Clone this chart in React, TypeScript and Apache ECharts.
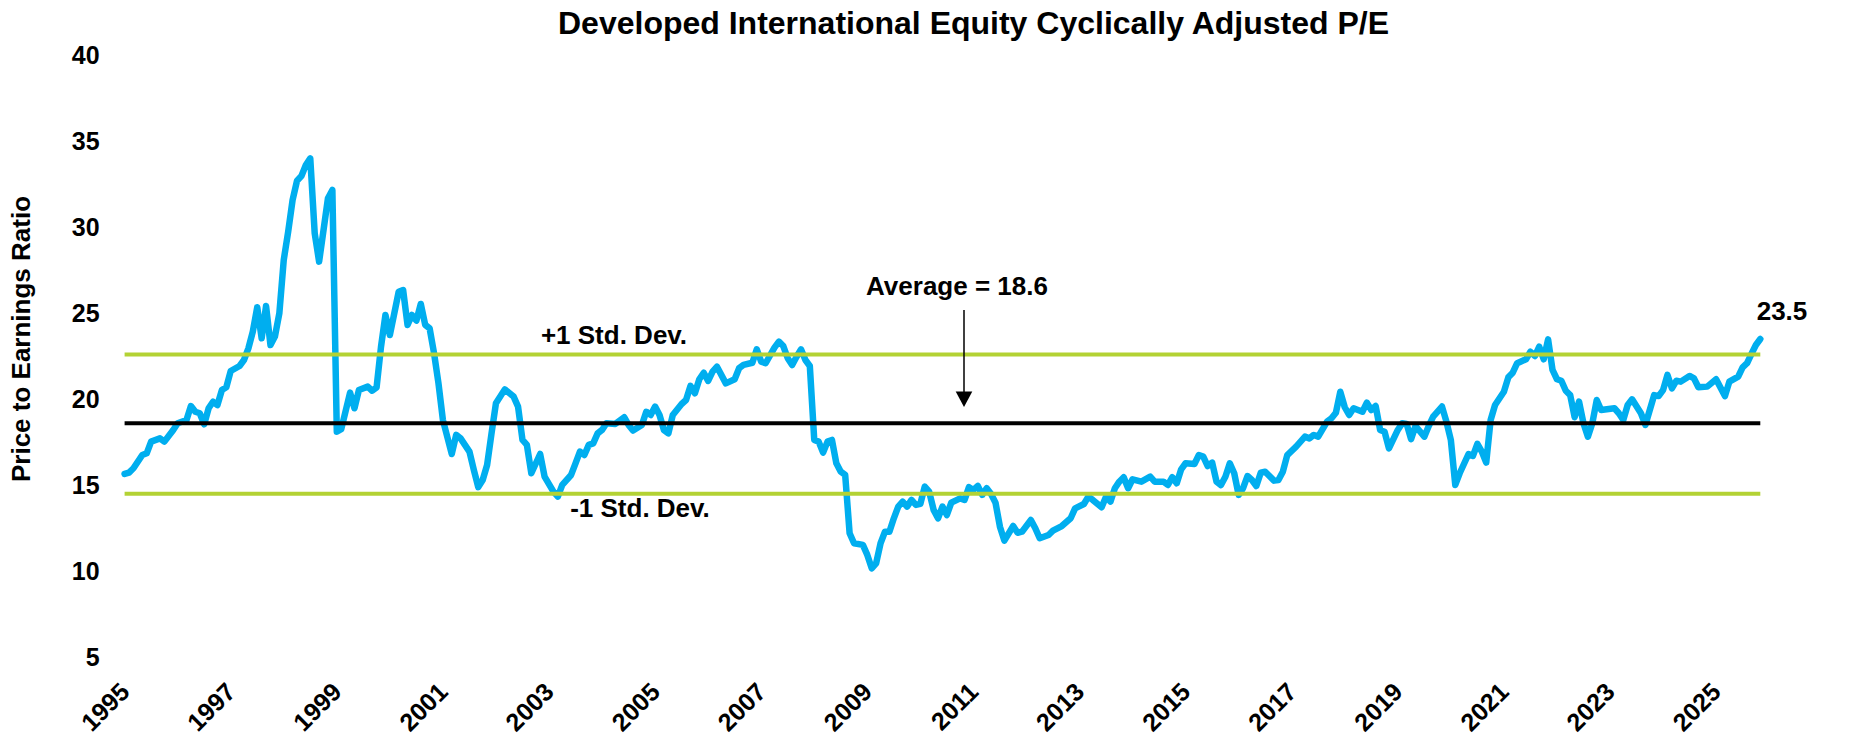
import { useEffect, useRef } from "react";
import * as echarts from "echarts";

const TITLE = "Developed International Equity Cyclically Adjusted P/E";
const Y_NAME = "Price to Earnings Ratio";
const START_YEAR = 1995;

const dates: string[] = [
  "1995-01","1995-02","1995-03","1995-05","1995-06","1995-07","1995-09","1995-10","1995-12",
  "1996-01","1996-03","1996-04","1996-05","1996-06","1996-07","1996-08","1996-09","1996-10","1996-11","1996-12",
  "1997-01","1997-03","1997-04","1997-05","1997-06","1997-07","1997-08","1997-09","1997-10","1997-11","1997-12",
  "1998-01","1998-02","1998-03","1998-04","1998-05","1998-06","1998-07","1998-08","1998-09","1998-10","1998-11","1998-12",
  "1999-01","1999-02","1999-04","1999-05","1999-06","1999-08","1999-09","1999-10","1999-11","1999-12",
  "2000-01","2000-03","2000-04","2000-05","2000-06","2000-07","2000-08","2000-09","2000-10","2000-11","2000-12",
  "2001-01","2001-03","2001-04","2001-05","2001-07","2001-08","2001-09","2001-10","2001-11","2001-12",
  "2002-01","2002-03","2002-05","2002-06","2002-07","2002-08","2002-09","2002-11","2002-12",
  "2003-02","2003-03","2003-04","2003-06","2003-07","2003-08","2003-09","2003-10","2003-11","2003-12",
  "2004-01","2004-02","2004-04","2004-06","2004-07","2004-08","2004-10","2004-11","2004-12",
  "2005-01","2005-02","2005-03","2005-04","2005-05","2005-07","2005-08","2005-09","2005-10","2005-11","2005-12",
  "2006-01","2006-02","2006-03","2006-05","2006-07","2006-08","2006-09","2006-11","2006-12",
  "2007-01","2007-02","2007-04","2007-05","2007-06","2007-07","2007-08","2007-09","2007-10","2007-11","2007-12",
  "2008-01","2008-02","2008-03","2008-04","2008-05","2008-06","2008-07","2008-08","2008-09","2008-10","2008-12",
  "2009-01","2009-02","2009-03","2009-04","2009-05","2009-06","2009-07","2009-08","2009-09","2009-10","2009-11","2009-12",
  "2010-01","2010-02","2010-03","2010-04","2010-05","2010-06","2010-07","2010-08","2010-10","2010-11","2010-12",
  "2011-01","2011-02","2011-03","2011-04","2011-05","2011-06","2011-07","2011-08","2011-10","2011-11","2011-12",
  "2012-02","2012-03","2012-04","2012-06","2012-07","2012-09","2012-11","2012-12",
  "2013-02","2013-03","2013-04","2013-06","2013-07","2013-08","2013-09","2013-10","2013-11","2013-12",
  "2014-01","2014-03","2014-05","2014-06","2014-08","2014-09","2014-10","2014-11","2014-12",
  "2015-01","2015-03","2015-04","2015-05","2015-06","2015-07","2015-08","2015-09","2015-10","2015-11","2015-12",
  "2016-01","2016-02","2016-03","2016-04","2016-05","2016-06","2016-07","2016-09","2016-10","2016-11","2016-12",
  "2017-02","2017-04","2017-05","2017-06","2017-07","2017-09","2017-10","2017-11","2017-12",
  "2018-01","2018-02","2018-03","2018-05","2018-06","2018-07","2018-08","2018-09","2018-10","2018-11",
  "2019-01","2019-02","2019-03","2019-04","2019-05","2019-07","2019-08","2019-09","2019-11","2019-12",
  "2020-01","2020-02","2020-03","2020-05","2020-06","2020-07","2020-08","2020-09","2020-10","2020-11",
  "2021-01","2021-02","2021-03","2021-04","2021-06","2021-07","2021-08","2021-09","2021-10","2021-11","2021-12",
  "2022-01","2022-02","2022-03","2022-04","2022-05","2022-06","2022-07","2022-08","2022-09","2022-10","2022-11",
  "2023-02","2023-03","2023-04","2023-05","2023-06","2023-08","2023-09","2023-11","2023-12",
  "2024-01","2024-02","2024-03","2024-04","2024-05","2024-07","2024-08","2024-09","2024-11",
  "2025-01","2025-03","2025-04","2025-06","2025-07","2025-08","2025-09","2025-10","2025-11",
];

const peValues: number[] = [
  15.65,15.73,15.98,16.75,16.85,17.53,17.72,17.53,18.21,
  18.6,18.79,19.6,19.27,19.18,18.54,19.47,19.85,19.66,20.53,20.69,
  21.64,21.93,22.28,22.96,23.93,25.35,23.54,25.42,23.15,23.64,24.99,
  28.1,29.74,31.59,32.71,32.98,33.62,34.01,29.65,28.0,29.84,31.69,32.17,
  18.11,18.25,20.38,19.47,20.53,20.73,20.49,20.69,23.05,24.9,
  23.73,26.25,26.35,24.32,24.9,24.57,25.54,24.32,24.12,22.67,20.92,
  18.79,16.81,17.92,17.72,16.95,15.88,14.88,15.3,16.17,18.01,
  19.76,20.57,20.15,19.57,17.63,17.34,15.69,16.81,15.49,
  14.62,14.33,15.01,15.59,16.27,16.95,16.75,17.34,17.43,18.01,
  18.21,18.6,18.56,18.95,18.5,18.17,18.5,19.27,19.08,
  19.57,19.08,18.2,18.01,19.08,19.72,19.95,20.77,20.34,21.16,21.54,
  21.06,21.6,21.89,20.92,21.16,21.8,21.99,22.12,22.9,
  22.18,22.09,23.0,23.35,23.09,22.38,21.99,22.47,22.9,22.28,21.93,
  17.63,17.53,16.89,17.53,17.63,16.27,15.78,15.59,12.2,11.62,11.52,
  10.94,10.16,10.45,11.62,12.29,12.29,13.07,13.75,14.04,13.75,14.14,13.85,
  13.91,14.91,14.62,13.56,13.07,13.75,13.26,13.98,14.23,14.14,14.88,
  14.72,14.95,14.43,14.82,14.48,13.98,12.58,11.77,12.62,12.23,12.29,
  12.97,12.49,11.91,12.1,12.35,12.62,13.07,13.65,
  13.9,14.33,14.14,13.71,14.33,14.04,14.82,15.2,15.46,14.82,
  15.34,15.2,15.49,15.2,15.2,15.01,15.46,15.11,15.92,
  16.27,16.23,16.75,16.66,16.11,16.31,15.2,15.0,15.49,16.27,15.69,
  14.43,14.82,15.53,15.3,14.95,15.72,15.78,15.26,15.3,15.78,16.75,
  17.24,17.82,17.72,17.92,17.82,18.69,18.89,19.21,20.43,
  19.53,19.08,19.47,19.27,19.8,19.37,19.6,18.21,18.11,17.14,
  18.21,18.6,18.56,17.67,18.44,17.82,18.44,18.98,19.57,18.69,
  17.63,15.01,15.69,16.81,16.7,17.4,16.95,16.31,18.79,19.66,
  20.43,21.27,21.54,22.09,22.32,22.76,22.51,23.05,22.32,23.48,21.7,
  21.16,21.07,20.49,20.24,18.95,19.86,18.6,17.82,18.6,19.95,19.37,
  19.47,19.18,18.79,19.66,19.99,19.18,18.5,20.24,20.18,
  20.53,21.41,20.63,21.07,21.02,21.35,21.21,20.69,20.73,
  21.16,20.18,21.02,21.31,21.85,22.09,22.63,23.15,23.5,
];

const AVERAGE = 18.6;
const PLUS_ONE_SD = 22.6;
const MINUS_ONE_SD = 14.5;

const Y_MIN = 5;
const Y_MAX = 40;
const Y_INTERVAL = 5;
const X_LABEL_STEP = 2;

const BLUE = "#00AEEF";
const GREEN = "#B3D234";
const FONT = "Arial, 'Liberation Sans', sans-serif";

function toOffset(d: string): number {
  const [y, m] = d.split("-").map(Number);
  return y - START_YEAR + (m - 1) / 12;
}

export default function App() {
  const ref = useRef<HTMLDivElement>(null);

  useEffect(() => {
    if (!ref.current) return;
    const chart = echarts.init(ref.current, null, { renderer: "svg" });
    const points = dates.map((d, i) => [toOffset(d), peValues[i]]);
    const xMax = points[points.length - 1][0];
    const flat = (v: number) => [[0, v], [xMax, v]];
    const lastVal = peValues[peValues.length - 1];

    const textStyle = (text: string, x: number, y: number, size = 26) => ({
      type: "text",
      style: {
        text,
        x,
        y,
        align: "center",
        verticalAlign: "middle",
        fill: "#000",
        fontSize: size,
        fontWeight: "bold",
        fontFamily: FONT,
      },
      z: 100,
    });

    chart.setOption({
      animation: false,
      backgroundColor: "#fff",
      title: {
        text: TITLE,
        left: 553,
        top: 2,
        textStyle: { fontSize: 32, fontWeight: "bold", color: "#000", fontFamily: FONT },
      },
      grid: {
        left: 124.6,
        right: 92.7,
        top: 55.4,
        bottom: 79,
        containLabel: false,
        outerBoundsMode: "none",
      },
      xAxis: {
        type: "value",
        min: 0,
        max: xMax,
        interval: X_LABEL_STEP,
        axisLine: { show: false },
        axisTick: { show: false },
        splitLine: { show: false },
        axisLabel: {
          rotate: 45,
          margin: 30,
          fontSize: 25,
          fontWeight: "bold",
          color: "#000",
          fontFamily: FONT,
          formatter: (v: number) => {
            const r = Math.round(v);
            return Math.abs(v - r) < 1e-6 && r % X_LABEL_STEP === 0 ? String(START_YEAR + r) : "";
          },
        },
      },
      yAxis: {
        type: "value",
        min: Y_MIN,
        max: Y_MAX,
        interval: Y_INTERVAL,
        axisLine: { show: false },
        axisTick: { show: false },
        splitLine: { show: false },
        axisLabel: {
          margin: 25,
          fontSize: 25,
          fontWeight: "bold",
          color: "#000",
          fontFamily: FONT,
        },
      },
      series: [
        {
          name: "CAPE",
          type: "line",
          data: points,
          showSymbol: false,
          lineStyle: { color: BLUE, width: 6.5, join: "round", cap: "round" },
          z: 2,
        },
        {
          name: "+1 Std. Dev.",
          type: "line",
          data: flat(PLUS_ONE_SD),
          showSymbol: false,
          lineStyle: { color: GREEN, width: 4 },
          z: 3,
        },
        {
          name: "Average",
          type: "line",
          data: flat(AVERAGE),
          showSymbol: false,
          lineStyle: { color: "#000", width: 4 },
          z: 3,
        },
        {
          name: "-1 Std. Dev.",
          type: "line",
          data: flat(MINUS_ONE_SD),
          showSymbol: false,
          lineStyle: { color: GREEN, width: 4 },
          z: 3,
        },
      ],
      graphic: [
        {
          type: "text",
          x: 21,
          y: 339,
          rotation: Math.PI / 2,
          style: {
            text: Y_NAME,
            x: 0,
            y: 0,
            align: "center",
            verticalAlign: "middle",
            fill: "#000",
            fontSize: 26,
            fontWeight: "bold",
            fontFamily: FONT,
          },
        },
        textStyle("+1 Std. Dev.", 614, 335),
        textStyle("-1 Std. Dev.", 640, 508),
        textStyle("Average = " + AVERAGE.toFixed(1), 957, 286),
        textStyle(lastVal.toFixed(1), 1782, 311),
        {
          type: "line",
          shape: { x1: 964, y1: 310, x2: 964, y2: 395 },
          style: { stroke: "#000", lineWidth: 1.5 },
          z: 100,
        },
        {
          type: "polygon",
          shape: { points: [[955.7, 391.5], [972.3, 391.5], [964, 407]] },
          style: { fill: "#000" },
          z: 100,
        },
      ],
    });

    return () => chart.dispose();
  }, []);

  return (
    <div
      ref={ref}
      style={{ position: "absolute", left: 0, top: 0, width: 1853, height: 736 }}
    />
  );
}
